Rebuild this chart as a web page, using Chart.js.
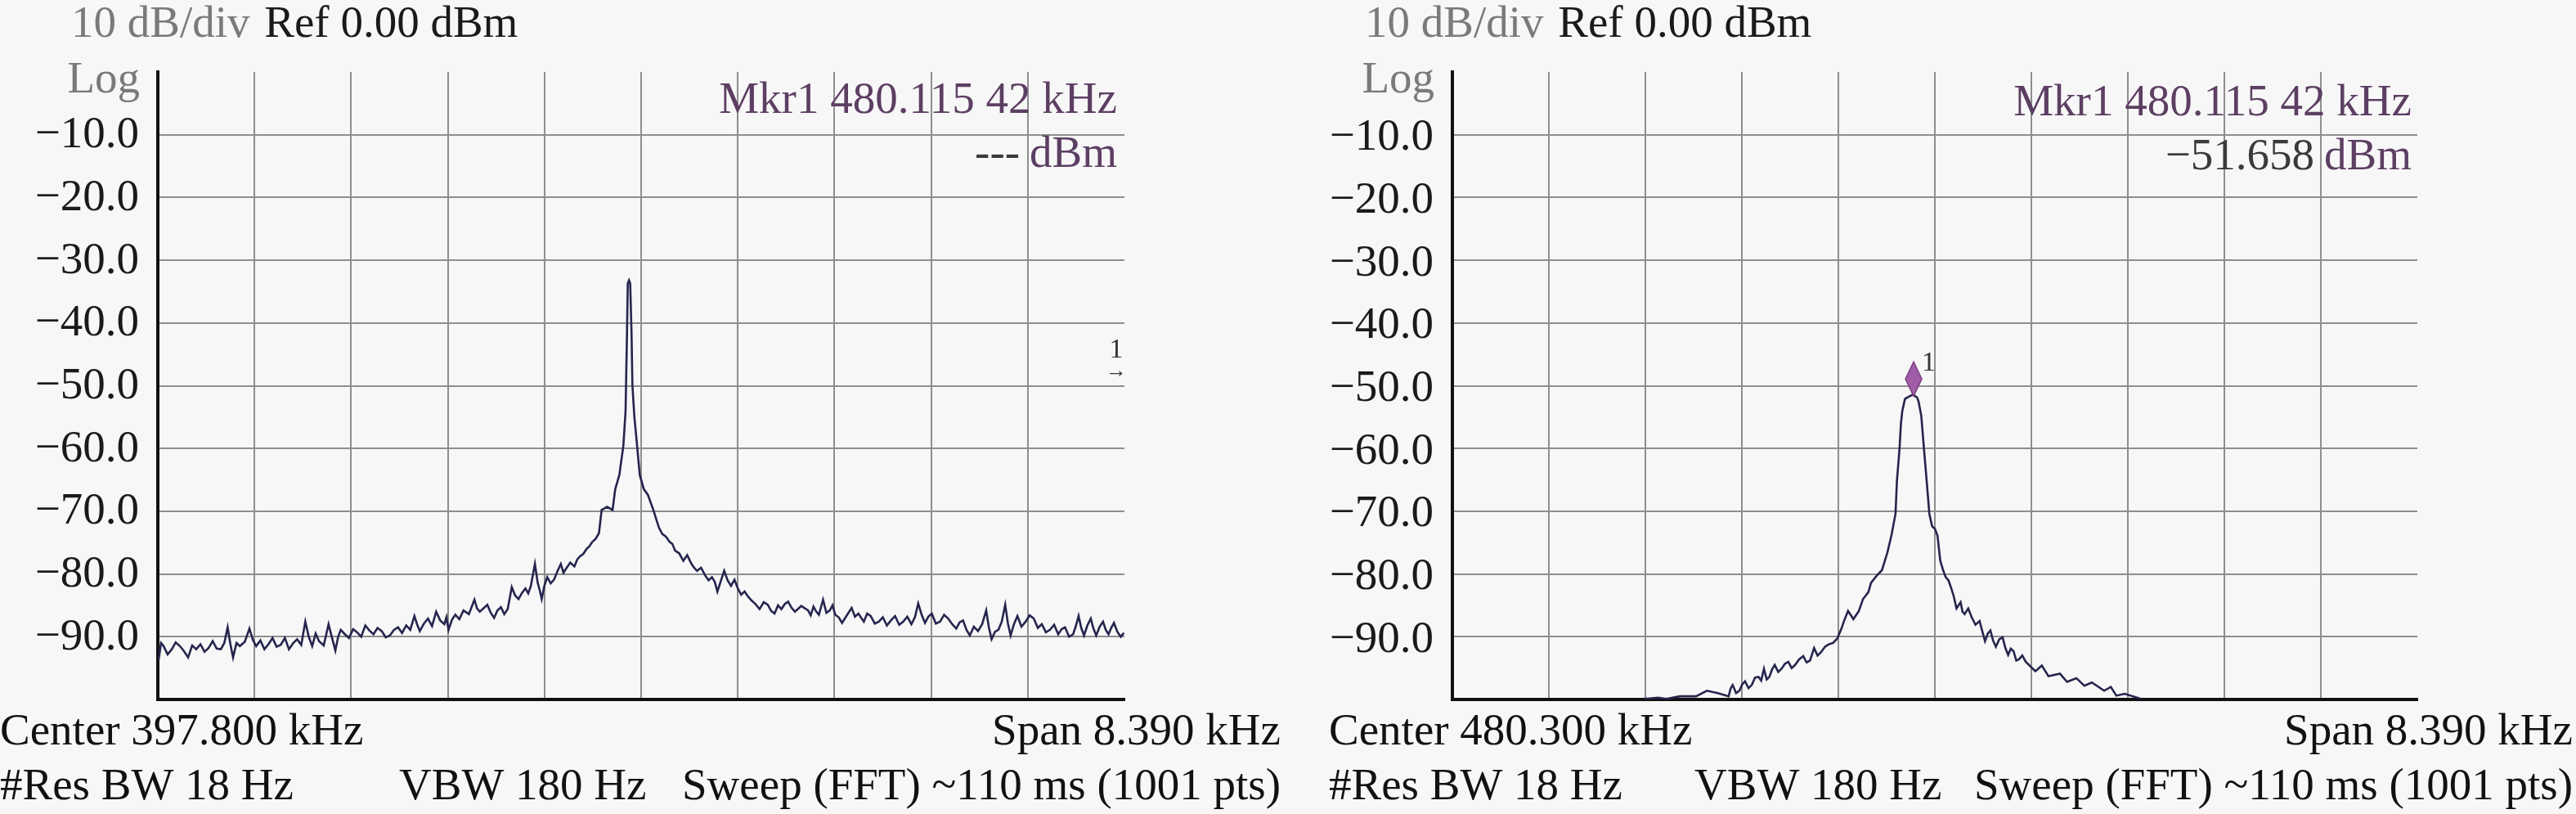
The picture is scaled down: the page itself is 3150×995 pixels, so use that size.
<!DOCTYPE html>
<html>
<head>
<meta charset="utf-8">
<script src="https://cdn.jsdelivr.net/npm/chart.js@4.4.1/dist/chart.umd.min.js"></script>
<style>
  html, body { margin: 0; padding: 0; background: #f7f7f7; }
  body { width: 3150px; height: 995px; position: relative; overflow: hidden; }
  .panel { position: absolute; top: 0; width: 1575px; height: 995px; }
</style>
</head>
<body>
<div class="panel" style="left:0"><canvas id="left-panel" width="1575" height="995"></canvas></div>
<div class="panel" style="left:1575px"><canvas id="right-panel" width="1575" height="995"></canvas></div>
<script>
(function () {
    "use strict";

    // analyser settings (kHz / dBm)
    const centerFreqs = [397.8, 480.3];
    const spanKHz = 8.39;
    const refLevel = 0;
    const dbPerDiv = 10;
    const yTickValues = [-10, -20, -30, -40, -50, -60, -70, -80, -90];
    const yTickLabels = ["−10.0", "−20.0", "−30.0", "−40.0", "−50.0", "−60.0", "−70.0", "−80.0", "−90.0"];

    // left trace
    const leftFreq = [
        393.612, 393.633, 393.655, 393.690, 393.726, 393.760, 393.797, 393.832, 393.868, 393.903,
        393.939, 393.975, 394.010, 394.045, 394.081, 394.116, 394.152, 394.182, 394.211, 394.235,
        394.258, 394.288, 394.317, 394.360, 394.400, 394.430, 394.459, 394.495, 394.530, 394.565,
        394.601, 394.636, 394.672, 394.708, 394.743, 394.780, 394.814, 394.850, 394.885, 394.915,
        394.945, 394.975, 395.004, 395.045, 395.087, 395.116, 395.146, 395.170, 395.193, 395.228,
        395.264, 395.300, 395.335, 395.370, 395.406, 395.441, 395.477, 395.512, 395.548, 395.583,
        395.619, 395.655, 395.690, 395.725, 395.761, 395.796, 395.832, 395.855, 395.879, 395.915,
        395.950, 395.985, 396.021, 396.056, 396.092, 396.110, 396.128, 396.158, 396.187, 396.222,
        396.258, 396.305, 396.353, 396.376, 396.400,
        396.465, 396.495, 396.524, 396.553, 396.583, 396.612, 396.642, 396.677, 396.706, 396.736,
        396.766, 396.796, 396.820, 396.843, 396.878, 396.902, 396.920, 396.937, 396.960, 396.985,
        397.015, 397.044, 397.073, 397.103, 397.126, 397.150, 397.185, 397.221, 397.245, 397.268,
        397.298, 397.327, 397.350, 397.375, 397.405, 397.434,
        397.457, 397.505, 397.552, 397.575, 397.611, 397.646, 397.665, 397.677, 397.684, 397.695,
        397.705, 397.717, 397.724, 397.741, 397.760, 397.788, 397.824, 397.859, 397.906, 397.954,
        397.983, 398.013, 398.048, 398.071, 398.095, 398.130, 398.166, 398.200, 398.237, 398.260,
        398.285, 398.320, 398.355, 398.385, 398.415, 398.440, 398.462, 398.490, 398.521, 398.550,
        398.580, 398.610, 398.639, 398.668, 398.698, 398.728, 398.757, 398.792, 398.828, 398.864,
        398.899, 398.929, 398.958, 398.988, 399.017, 399.046, 399.076, 399.106, 399.135, 399.190,
        399.249, 399.272, 399.296, 399.320, 399.343, 399.361, 399.379, 399.408, 399.438, 399.461,
        399.485, 399.515, 399.544, 399.585, 399.627, 399.656, 399.686, 399.710, 399.733, 399.762,
        399.792, 399.828, 399.863, 399.898, 399.933, 399.968, 400.004, 400.040, 400.075, 400.110,
        400.146, 400.176, 400.205, 400.235, 400.264, 400.293, 400.323, 400.358, 400.394, 400.430,
        400.465, 400.500, 400.535, 400.565, 400.594, 400.624, 400.653, 400.688, 400.724, 400.760,
        400.795, 400.818, 400.842, 400.872, 400.901, 400.930, 400.960, 400.984, 401.007, 401.036,
        401.066, 401.101, 401.137, 401.172, 401.208, 401.243, 401.278, 401.313, 401.349, 401.385,
        401.420, 401.450, 401.479, 401.515, 401.550, 401.573, 401.597, 401.620, 401.644, 401.673,
        401.703, 401.726, 401.750, 401.780, 401.809, 401.833, 401.857, 401.880, 401.904, 401.933,
        401.963, 401.990
    ];
    const leftLevel = [
        -93.7, -91.0, -91.5, -92.8, -92.0, -90.9, -91.5, -92.3, -93.3, -91.4,
        -92.0, -91.2, -92.4, -91.8, -90.7, -91.9, -92.0, -91.0, -88.5, -91.2,
        -93.3, -91.0, -91.5, -90.8, -88.7, -90.5, -91.5, -90.6, -92.0, -91.2,
        -90.2, -91.6, -91.3, -90.2, -92.0, -91.0, -90.4, -91.3, -87.6, -90.0,
        -91.5, -89.5, -90.7, -91.4, -88.0, -90.1, -92.2, -90.0, -88.9, -89.6,
        -90.2, -88.8, -89.3, -90.0, -88.2, -89.0, -89.6, -88.6, -89.1, -90.1,
        -89.8, -88.9, -88.5, -89.4, -88.2, -88.9, -86.7, -88.0, -89.1, -87.9,
        -87.1, -88.3, -86.0, -87.4, -88.0, -86.9, -88.9, -87.3, -86.5, -87.2,
        -85.8, -86.4, -84.1, -85.5, -86.0,
        -84.9, -86.2, -87.0, -85.8, -85.3, -86.4, -85.6, -82.1, -83.4, -84.0,
        -83.0, -82.3, -83.1, -81.9, -78.4, -81.4, -82.6, -84.0, -81.9, -80.5,
        -81.5, -80.9, -79.6, -78.4, -79.8, -79.1, -78.2, -78.8, -77.7, -77.2,
        -76.8, -76.0, -75.6, -74.9, -74.4, -73.5,
        -69.8, -69.3, -69.8, -66.5, -64.2, -59.5, -54.0, -41.9, -33.7, -33.2,
        -33.7, -41.9, -49.8, -54.9, -58.6, -64.2, -66.5, -67.4, -69.8, -72.6,
        -73.6, -74.0, -74.9, -75.2, -76.3, -76.7, -77.9, -77.0, -78.4, -79.0,
        -79.5, -79.0, -80.2, -81.0, -80.5, -81.3, -82.8, -81.2, -79.5, -81.0,
        -81.9, -80.9, -82.3, -83.3, -82.8, -83.6, -84.2, -84.8, -85.6, -84.5,
        -84.9, -85.9, -86.3, -85.0, -85.6, -84.8, -84.4, -85.4, -86.0, -85.1,
        -85.8, -86.6, -85.2, -86.0, -86.5, -85.3, -84.1, -86.2, -85.8, -85.0,
        -86.5, -86.9, -87.8, -86.6, -85.4, -86.8, -86.3, -87.0, -87.6, -86.3,
        -86.7, -87.9, -87.6, -86.9, -88.2, -87.4, -86.7, -88.1, -87.6, -86.8,
        -88.0, -86.9, -84.7, -86.5, -87.8, -86.8, -86.3, -87.9, -87.6, -86.5,
        -87.1, -88.0, -88.7, -87.7, -87.4, -88.9, -89.8, -88.4, -89.1, -88.0,
        -85.8, -88.5, -90.4, -89.2, -88.9, -87.6, -84.9, -87.9, -89.8, -88.0,
        -86.7, -88.4, -87.6, -86.6, -87.1, -88.6, -88.0, -89.3, -88.9, -88.1,
        -89.6, -88.8, -88.5, -90.0, -89.6, -88.3, -86.7, -88.6, -89.8, -88.2,
        -87.1, -88.7, -89.8, -88.4, -87.6, -88.9, -89.6, -88.6, -87.8, -89.2,
        -90.0, -89.4
    ];

    // right trace
    const rightFreq = [
        477.776, 477.894, 477.965, 478.083, 478.224, 478.318, 478.413, 478.507, 478.525, 478.542,
        478.572, 478.601, 478.625, 478.649, 478.680, 478.708, 478.737, 478.767, 478.790, 478.814,
        478.838, 478.861, 478.885, 478.908, 478.938, 478.967, 478.997, 479.026, 479.055, 479.085,
        479.120, 479.156, 479.185, 479.215, 479.250, 479.280, 479.309, 479.345, 479.380, 479.415,
        479.451, 479.486, 479.510, 479.545, 479.592, 479.639, 479.675, 479.722, 479.745, 479.793,
        479.840, 479.887, 479.922, 479.958, 479.970, 479.993, 480.005, 480.017, 480.040, 480.076,
        480.111, 480.146, 480.158, 480.182, 480.205, 480.229, 480.252, 480.276, 480.300, 480.323,
        480.347, 480.370, 480.394, 480.418, 480.441, 480.465, 480.488, 480.524, 480.540, 480.559,
        480.590, 480.618, 480.653, 480.689, 480.712, 480.736, 480.760, 480.783, 480.806, 480.830,
        480.860, 480.889, 480.913, 480.937, 480.960, 480.984, 481.008, 481.031, 481.060, 481.090,
        481.174, 481.230, 481.288, 481.388, 481.450, 481.530, 481.600, 481.665, 481.772, 481.830,
        481.878, 481.950, 482.092
    ];
    const rightLevel = [
        -99.9, -99.7, -99.9, -99.5, -99.5, -98.6, -99.0, -99.5, -98.2, -97.7,
        -99.0, -98.6, -97.6, -97.1, -98.2, -97.7, -96.5, -96.4, -97.0, -95.1,
        -96.8, -96.4, -95.2, -94.5, -95.6, -95.1, -94.3, -94.0, -95.0, -94.5,
        -93.6, -93.1, -94.1, -93.8, -91.8, -93.0, -92.5, -91.6, -91.2, -91.0,
        -90.3, -88.8, -87.5, -85.9, -87.2, -85.9, -84.0, -82.9, -81.4, -80.3,
        -79.4, -76.6, -73.9, -70.4, -65.2, -60.0, -56.0, -54.0, -52.1, -51.7,
        -51.4, -51.9, -52.5, -54.8, -60.0, -65.2, -70.4, -72.4, -72.8, -73.9,
        -77.9, -79.3, -80.5, -81.0, -82.2, -83.6, -85.5, -84.5, -86.0, -86.4,
        -85.5, -86.8, -88.1, -87.5, -89.1, -90.7, -89.5, -89.0, -90.6, -91.6,
        -90.4, -90.1, -91.8, -92.9, -91.9, -92.3, -93.8, -93.6, -93.0, -94.0,
        -95.5, -94.6, -96.3, -95.9, -97.2, -96.6, -97.8, -97.3, -98.6, -98.0,
        -99.4, -99.1, -99.9
    ];

    // marker 1
    const markerFreq = 480.11542;
    const markerLevel = -51.658;
    const offMarkerLevel = -45.5; // left panel: marker is off span, shown at the right edge

    const FONT = '"Liberation Serif", "Times New Roman", serif';
    const gridColor = "#8e8e8e";

    const fmtKHz = v => v.toFixed(3) + " kHz";

    // texts around each screen
    const screenText = {
        id: "screenText",
        afterDraw(chart, args, o) {
            const ctx = chart.ctx;
            const { left, right } = chart.chartArea;
            ctx.save();
            ctx.textBaseline = "alphabetic";
            ctx.font = `55px ${FONT}`;

            ctx.textAlign = "left";
            ctx.fillStyle = "#7a7a7a";
            ctx.fillText("10 dB/div", o.headerX, 45);
            const w = ctx.measureText("10 dB/div ").width + 4;
            ctx.fillStyle = "#1a1a1a";
            ctx.fillText(`Ref ${refLevel.toFixed(2)} dBm`, o.headerX + w, 45);

            ctx.textAlign = "right";
            ctx.fillStyle = "#7a7a7a";
            ctx.fillText("Log", left - 22, 113);

            ctx.fillStyle = "#5d3f63";
            ctx.fillText("Mkr1 480.115 42 kHz", o.mkrX, o.mkrY);
            const dbmW = ctx.measureText("dBm").width;
            ctx.fillText("dBm", o.mkrX, o.mkrY + 66);
            ctx.fillStyle = "#3a3a3a";
            ctx.fillText(o.mkrValue, o.mkrX - dbmW - 12, o.mkrY + 66);

            ctx.fillStyle = "#111";
            ctx.textAlign = "left";
            ctx.fillText("Center " + fmtKHz(o.center), o.bottomX, 910);
            ctx.fillText("#Res BW 18 Hz", o.bottomX, 977);
            ctx.fillText("VBW 180 Hz", o.vbwX, 977);
            ctx.textAlign = "right";
            ctx.fillText("Span " + fmtKHz(spanKHz), o.rightX, 910);
            ctx.fillText("Sweep (FFT) ~110 ms (1001 pts)", o.rightX, 977);

            // marker symbol
            const xs = chart.scales.x, ys = chart.scales.y;
            ctx.fillStyle = "#333";
            if (o.showDiamond) {
                const px = xs.getPixelForValue(markerFreq);
                const py = ys.getPixelForValue(markerLevel);
                ctx.beginPath();
                ctx.moveTo(px, py);
                ctx.lineTo(px + 10, py - 21);
                ctx.lineTo(px, py - 42);
                ctx.lineTo(px - 10, py - 21);
                ctx.closePath();
                ctx.fillStyle = "#a15ca8";
                ctx.fill();
                ctx.strokeStyle = "#7c3f82";
                ctx.lineWidth = 1.5;
                ctx.stroke();
                ctx.fillStyle = "#333";
                ctx.textAlign = "left";
                ctx.font = `34px ${FONT}`;
                ctx.fillText("1", px + 10, py - 31);
            } else {
                const py = ys.getPixelForValue(offMarkerLevel);
                ctx.textAlign = "center";
                ctx.font = `34px ${FONT}`;
                ctx.fillText("1", right - 10, py);
                ctx.font = `26px ${FONT}`;
                ctx.fillText("→", right - 10, py + 24);
            }
            ctx.restore();
        },
    };

    function createScreen(canvasId, freq, level, o) {
        const start = o.center - spanKHz / 2;
        const stop = o.center + spanKHz / 2;
        const xGrid = Array.from({ length: 11 }, (_, i) => start + (i * spanKHz) / 10);

        return new Chart(document.getElementById(canvasId).getContext("2d"), {
            type: "scatter",
            data: {
                datasets: [{
                    data: freq.map((f, i) => ({ x: f, y: level[i] })),
                    showLine: true,
                    borderColor: "#25254e",
                    borderWidth: 2.6,
                    pointRadius: 0,
                    tension: 0,
                }],
            },
            options: {
                responsive: false,
                animation: false,
                devicePixelRatio: 1,
                layout: { padding: { left: 0, right: 1575 - o.areaRight, top: 88, bottom: 140 } },
                plugins: {
                    legend: { display: false },
                    tooltip: { enabled: false },
                    screenText: o,
                },
                scales: {
                    x: {
                        type: "linear",
                        min: start,
                        max: stop,
                        afterBuildTicks: s => { s.ticks = xGrid.map(v => ({ value: v })); },
                        afterFit: s => { s.height = 0; },
                        ticks: { display: false },
                        grid: {
                            color: c => (c.index === 0 || c.index === 10) ? "rgba(0,0,0,0)" : gridColor,
                            lineWidth: 2,
                            drawTicks: false,
                        },
                        border: { display: true, color: "#111", width: 4 },
                    },
                    y: {
                        min: refLevel - 10 * dbPerDiv,
                        max: refLevel,
                        afterFit: s => { s.width = o.areaLeft; },
                        ticks: {
                            stepSize: dbPerDiv,
                            padding: 23,
                            labelOffset: o.labelOffset,
                            color: "#1a1a1a",
                            font: { family: FONT, size: 55 },
                            callback: v => {
                                const i = yTickValues.indexOf(v);
                                return i < 0 ? null : yTickLabels[i];
                            },
                        },
                        grid: {
                            color: c => (c.tick && (c.tick.value === refLevel || c.tick.value === refLevel - 100)) ? "rgba(0,0,0,0)" : gridColor,
                            lineWidth: 2,
                            drawTicks: false,
                        },
                        border: { display: true, color: "#111", width: 4 },
                    },
                },
            },
            plugins: [screenText],
        });
    }

    createScreen("left-panel", leftFreq, leftLevel, {
        center: centerFreqs[0], areaLeft: 193, areaRight: 1375, labelOffset: 1,
        headerX: 87, mkrX: 1366, mkrY: 138, mkrValue: "---",
        bottomX: 0, vbwX: 488, rightX: 1566, showDiamond: false,
    });
    createScreen("right-panel", rightFreq, rightLevel, {
        center: centerFreqs[1], areaLeft: 201, areaRight: 1381, labelOffset: 4,
        headerX: 94, mkrX: 1374, mkrY: 141, mkrValue: "−51.658",
        bottomX: 50, vbwX: 497, rightX: 1571, showDiamond: true,
    });
})();
</script>
</body>
</html>
